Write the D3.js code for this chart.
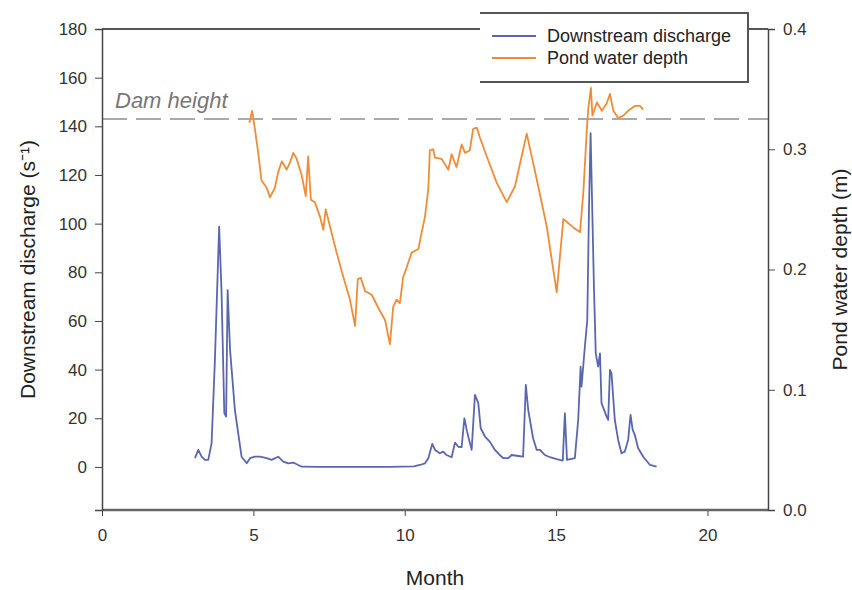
<!DOCTYPE html>
<html>
<head>
<meta charset="utf-8">
<script src="https://cdn.jsdelivr.net/npm/d3@7"></script>
<style>
  body { margin: 0; background: #fff; }
  text { font-family: "Liberation Sans", Arial, sans-serif; fill: #333; }
</style>
</head>
<body>
<div id="chart"></div>
<script>
// downstream discharge (left axis)
var dischargeMonth = [3.07, 3.18, 3.29, 3.40, 3.51, 3.62, 3.73, 3.87, 3.95, 4.04, 4.10, 4.15, 4.23, 4.39, 4.61, 4.78, 4.89, 5.05, 5.22, 5.44, 5.60, 5.82, 5.99, 6.15, 6.32, 6.48, 6.60, 7.20, 8.50, 9.50, 10.30, 10.50, 10.67, 10.78, 10.91, 11.00, 11.16, 11.27, 11.38, 11.55, 11.66, 11.77, 11.88, 11.97, 12.06, 12.21, 12.32, 12.43, 12.51, 12.65, 12.81, 12.98, 13.14, 13.25, 13.42, 13.53, 13.75, 13.91, 14.00, 14.08, 14.24, 14.36, 14.47, 14.63, 14.80, 15.02, 15.22, 15.29, 15.36, 15.62, 15.73, 15.81, 15.84, 15.95, 16.03, 16.09, 16.14, 16.19, 16.25, 16.31, 16.39, 16.45, 16.50, 16.67, 16.72, 16.78, 16.83, 16.94, 17.05, 17.16, 17.27, 17.38, 17.46, 17.53, 17.60, 17.71, 17.88, 18.10, 18.32];
var dischargeValue = [3.6, 7.0, 4.2, 2.9, 2.9, 9.7, 44, 98.8, 71.4, 22.1, 20.7, 72.7, 48.1, 23.4, 4.2, 1.5, 3.6, 4.2, 4.2, 3.6, 2.9, 4.2, 2.2, 1.5, 1.8, 0.8, 0.1, 0, 0, 0, 0.2, 0.8, 1.5, 3.6, 9.5, 7.0, 5.6, 6.3, 4.9, 4.0, 10, 8.3, 8.1, 20, 14.5, 7.0, 29.6, 26.2, 15.9, 12.5, 10.4, 7.0, 4.9, 3.6, 3.6, 4.9, 4.5, 4.2, 33.7, 23.4, 11.8, 7.0, 7.0, 4.9, 4.0, 3.2, 2.6, 22.1, 2.9, 3.6, 19.3, 41.2, 33.0, 49.4, 60.4, 108.4, 137.2, 108.4, 74.1, 46.7, 41.2, 46.7, 26.2, 20.7, 19.3, 39.9, 38.5, 19.3, 11.1, 5.6, 6.3, 11.1, 21.4, 15.2, 13.2, 7.7, 4.2, 0.8, 0.1];

// pond water depth (right axis)
var depthMonth = [4.87, 4.96, 5.05, 5.16, 5.27, 5.44, 5.55, 5.71, 5.82, 5.94, 6.10, 6.21, 6.32, 6.43, 6.60, 6.73, 6.81, 6.90, 7.03, 7.20, 7.31, 7.39, 7.53, 7.75, 7.97, 8.19, 8.36, 8.45, 8.55, 8.69, 8.91, 9.13, 9.35, 9.51, 9.62, 9.73, 9.84, 9.95, 10.03, 10.12, 10.23, 10.45, 10.56, 10.67, 10.78, 10.83, 10.94, 11.00, 11.22, 11.44, 11.55, 11.71, 11.88, 11.99, 12.15, 12.26, 12.38, 12.48, 12.71, 13.04, 13.37, 13.64, 14.03, 14.36, 14.69, 15.02, 15.24, 15.57, 15.79, 15.90, 16.01, 16.06, 16.15, 16.20, 16.35, 16.51, 16.67, 16.78, 16.89, 17.05, 17.22, 17.38, 17.60, 17.77, 17.88];
var depthValue = [0.322, 0.332, 0.317, 0.297, 0.274, 0.268, 0.260, 0.268, 0.281, 0.290, 0.283, 0.289, 0.297, 0.292, 0.278, 0.261, 0.294, 0.258, 0.256, 0.244, 0.233, 0.250, 0.236, 0.214, 0.194, 0.175, 0.153, 0.192, 0.193, 0.182, 0.179, 0.168, 0.158, 0.138, 0.169, 0.175, 0.172, 0.194, 0.199, 0.206, 0.214, 0.217, 0.231, 0.244, 0.267, 0.299, 0.300, 0.293, 0.292, 0.283, 0.296, 0.285, 0.304, 0.297, 0.299, 0.317, 0.318, 0.310, 0.294, 0.272, 0.256, 0.269, 0.313, 0.275, 0.236, 0.181, 0.242, 0.235, 0.231, 0.264, 0.314, 0.333, 0.351, 0.328, 0.339, 0.332, 0.338, 0.346, 0.332, 0.326, 0.328, 0.332, 0.336, 0.336, 0.333];

var damHeight = [143];

var xTicks = [0, 5, 10, 15, 20];
var leftTicks = [0, 20, 40, 60, 80, 100, 120, 140, 160, 180];
var rightTicks = [0.0, 0.1, 0.2, 0.3, 0.4];

var legendNames = ["Downstream discharge", "Pond water depth"];
var blue = "#5a67ae";
var orange = "#ef8c38";

var width = 852, height = 590;
var plotL = 102, plotR = 768, plotT = 29, plotB = 510;

var svg = d3.select("#chart").append("svg")
  .attr("width", width)
  .attr("height", height);

var x = d3.scaleLinear().domain([0, 22]).range([plotL, plotR]);
var yL = d3.scaleLinear().domain([-17.7, 180]).range([plotB, plotT]);
var yR = d3.scaleLinear().domain([0, 0.4]).range([plotB, plotT]);

// frame top line
svg.append("line")
  .attr("x1", plotL).attr("x2", plotR)
  .attr("y1", plotT).attr("y2", plotT)
  .attr("stroke", "#555").attr("stroke-width", 2);

// dam height
svg.append("line")
  .attr("x1", plotL).attr("x2", plotR)
  .attr("y1", yL(damHeight[0])).attr("y2", yL(damHeight[0]))
  .attr("stroke", "#aaa").attr("stroke-width", 2)
  .style("stroke-dasharray", ("25, 9"));

svg.append("text")
  .attr("x", 115).attr("y", yL(damHeight[0]) - 11)
  .style("font-size", "22px")
  .style("font-style", "italic")
  .style("fill", "#777")
  .text("Dam height");

// lines
var dischargeLine = d3.line()
  .x(function(d, i) { return x(dischargeMonth[i]); })
  .y(function(d) { return yL(d); });

var depthLine = d3.line()
  .x(function(d, i) { return x(depthMonth[i]); })
  .y(function(d) { return yR(d); });

svg.append("path")
  .attr("d", depthLine(depthValue))
  .attr("fill", "none")
  .attr("stroke", orange)
  .attr("stroke-width", 1.8)
  .attr("stroke-linejoin", "round");

svg.append("path")
  .attr("d", dischargeLine(dischargeValue))
  .attr("fill", "none")
  .attr("stroke", blue)
  .attr("stroke-width", 1.8)
  .attr("stroke-linejoin", "round");

// axes
var xAxis = svg.append("g")
  .attr("transform", "translate(0," + plotB + ")")
  .call(d3.axisBottom(x).tickValues(xTicks).tickSize(6).tickPadding(13));

var lAxis = svg.append("g")
  .attr("transform", "translate(" + plotL + ",0)")
  .call(d3.axisLeft(yL).tickValues(leftTicks).tickSize(7).tickPadding(8));

var rAxis = svg.append("g")
  .attr("transform", "translate(" + plotR + ",0)")
  .call(d3.axisRight(yR).tickValues(rightTicks).tickSize(7).tickPadding(8)
    .tickFormat(d3.format(".1f")));

[xAxis, lAxis, rAxis].forEach(function(a) {
  a.selectAll("text").style("font-size", "17px").style("fill", "#333")
    .style("font-family", "'Liberation Sans', Arial, sans-serif");
  a.selectAll("line").attr("stroke", "#444");
  a.select(".domain").attr("stroke", "#444").attr("stroke-width", 1.5);
});
xAxis.select(".domain").remove();
xAxis.append("line")
  .attr("x1", plotL).attr("x2", plotR)
  .attr("stroke", "#666").attr("stroke-width", 2.5);

// legend
var lg = svg.append("g");
lg.append("rect")
  .attr("x", 480).attr("y", 13)
  .attr("width", 268).attr("height", 69)
  .attr("fill", "#fff");
lg.append("path")
  .attr("d", "M480,13H748V82H480")
  .attr("fill", "none")
  .attr("stroke", "#555").attr("stroke-width", 2);

var entries = lg.selectAll(".entry").data(legendNames).enter().append("g");
entries.append("line")
  .attr("x1", 492).attr("x2", 536)
  .attr("y1", function(d, i) { return 36 + 22 * i; })
  .attr("y2", function(d, i) { return 36 + 22 * i; })
  .attr("stroke", function(d, i) { return i ? orange : blue; })
  .attr("stroke-width", 2);
entries.append("text")
  .attr("x", 547)
  .attr("y", function(d, i) { return 42 + 22 * i; })
  .style("font-size", "18px")
  .style("fill", "#222")
  .text(function(d) { return d; });

// axis titles
svg.append("text")
  .attr("transform", "translate(35," + (plotT + plotB) / 2 + ") rotate(-90)")
  .attr("text-anchor", "middle")
  .style("font-size", "21px")
  .style("fill", "#222")
  .text("Downstream discharge (s\u207B\u00B9)");

svg.append("text")
  .attr("transform", "translate(847," + (plotT + plotB) / 2 + ") rotate(-90)")
  .attr("text-anchor", "middle")
  .style("font-size", "21px")
  .style("fill", "#222")
  .text("Pond water depth (m)");

svg.append("text")
  .attr("x", (plotL + plotR) / 2).attr("y", 585)
  .attr("text-anchor", "middle")
  .style("font-size", "21px")
  .style("fill", "#222")
  .text("Month");
</script>
</body>
</html>
